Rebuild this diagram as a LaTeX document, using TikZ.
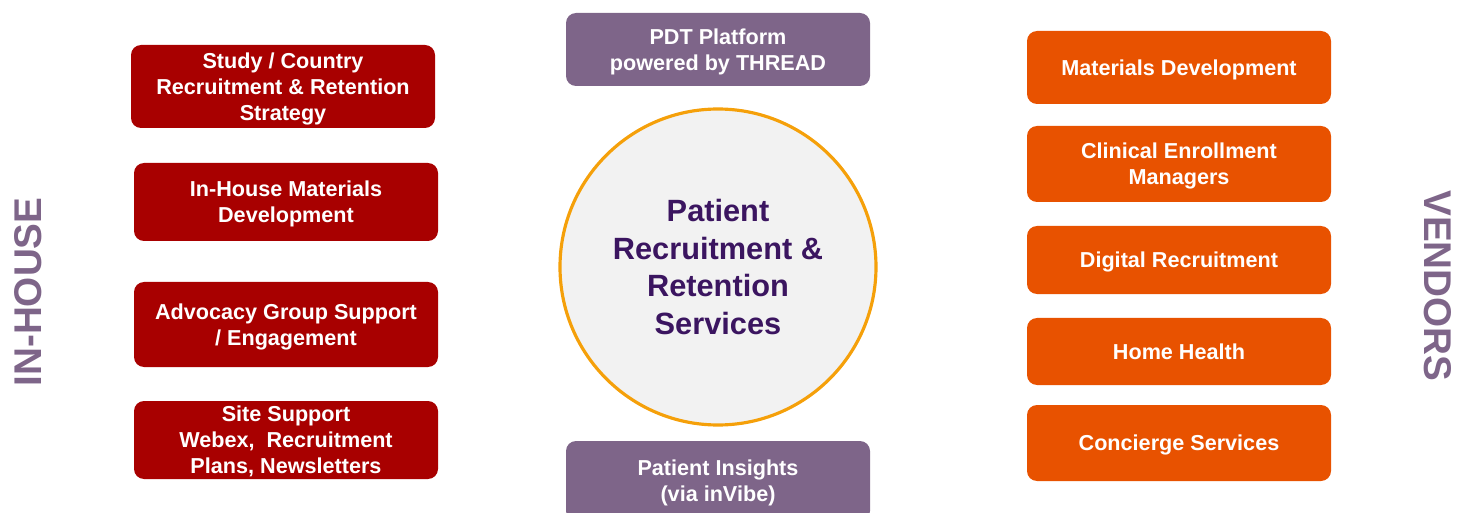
\documentclass[tikz,border=0pt]{standalone}
\usepackage{fontspec}
\setmainfont{Liberation Sans}
\usepackage{tikz}
\usetikzlibrary{shapes,positioning,calc}
\usepackage{xcolor}

\definecolor{inred}{HTML}{A80000}
\definecolor{vendorange}{HTML}{E85200}
\definecolor{platpurple}{HTML}{7E6589}
\definecolor{hubfill}{HTML}{F2F2F2}
\definecolor{hubring}{HTML}{F5A00A}
\definecolor{hubtext}{HTML}{3B1560}

\tikzset{
  basebox/.style={rectangle, rounded corners=0.2cm, draw=none, text=white,
    align=center, inner sep=0pt, minimum width=6.08cm, text depth=0pt,
    font=\fontsize{12.3}{14.8}\selectfont\bfseries},
  redbox/.style={basebox, fill=inred},
  vendorbox/.style={basebox, fill=vendorange},
  platbox/.style={basebox, fill=platpurple},
  sidelabel/.style={text=platpurple, font=\fontsize{22}{26}\selectfont\bfseries}
}

\begin{document}
\begin{tikzpicture}

\useasboundingbox (0,0) rectangle (29.14,10.24);

% In-house boxes
\node[redbox, minimum height=1.66cm] (strategy) at (5.66, 8.51) {Study / Country\\Recruitment \& Retention\\Strategy};
\node[redbox, minimum height=1.56cm] (materials) at (5.72, 6.20) {In-House Materials\\Development};
\node[redbox, minimum height=1.70cm] (advocacy) at (5.72, 3.75) {Advocacy Group Support\\/ Engagement};
\node[redbox, minimum height=1.56cm] (site) at (5.72, 1.44) {Site Support\\Webex,\ \ Recruitment\\Plans, Newsletters};

% Center
\node[platbox, minimum height=1.46cm] (pdt) at (14.36, 9.25) {PDT Platform\\powered by THREAD};
\node[circle, fill=hubfill, draw=hubring, line width=1.8pt, minimum size=6.32cm,
  inner sep=0pt, align=center, text=hubtext,
  font=\fontsize{17.5}{21.6}\selectfont\bfseries] (hub) at (14.36, 4.90)
  {Patient\\Recruitment \&\\Retention\\Services};
\node[platbox, minimum height=1.60cm] (insights) at (14.36, 0.62) {Patient Insights\\(via inVibe)};

% Vendor boxes
\node[vendorbox, minimum height=1.46cm] (vmaterials) at (23.58, 8.89) {Materials Development};
\node[vendorbox, minimum height=1.52cm] (enroll) at (23.58, 6.96) {Clinical Enrollment\\Managers};
\node[vendorbox, minimum height=1.36cm] (digital) at (23.58, 5.04) {Digital Recruitment};
\node[vendorbox, minimum height=1.34cm] (health) at (23.58, 3.21) {Home Health};
\node[vendorbox, minimum height=1.52cm] (concierge) at (23.58, 1.38) {Concierge Services};

% Side labels
\node[sidelabel, rotate=90] (inhouse) at (0.56, 4.40) {IN-HOUSE};
\node[sidelabel, rotate=-90] (vendors) at (28.76, 4.52) {VENDORS};

\end{tikzpicture}
\end{document}
